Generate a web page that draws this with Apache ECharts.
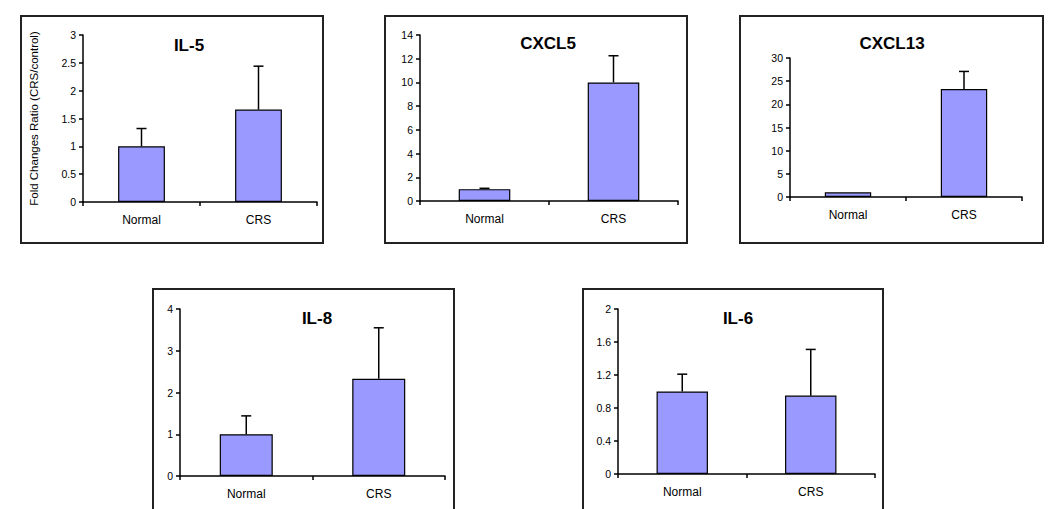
<!DOCTYPE html>
<html>
<head>
<meta charset="utf-8">
<script src="https://cdn.jsdelivr.net/npm/echarts@6/dist/echarts.min.js"></script>
<style>
  html, body { margin:0; padding:0; width:1050px; height:509px; overflow:hidden; background:#fff; }
  .box { position:absolute; border:2px solid #222; box-sizing:border-box; }
  #chart { position:absolute; left:0; top:0; width:1050px; height:509px; }
</style>
</head>
<body>
<div class="box" style="left:20px;top:15px;width:304px;height:229px;"></div>
<div class="box" style="left:384px;top:15px;width:304px;height:229px;"></div>
<div class="box" style="left:739px;top:15px;width:305px;height:229px;"></div>
<div class="box" style="left:152px;top:288px;width:303px;height:240px;"></div>
<div class="box" style="left:582px;top:288px;width:302px;height:240px;"></div>
<div id="chart"></div>
<script>
// ---- data ----
const categories = ['Normal', 'CRS'];
const panelTitles = ['IL-5', 'CXCL5', 'CXCL13', 'IL-8', 'IL-6'];
const il5Mean = [1.0, 1.66];
const il5Upper = [1.32, 2.44];
const cxcl5Mean = [1.0, 10.0];
const cxcl5Upper = [1.07, 12.25];
const cxcl13Mean = [1.0, 23.3];
const cxcl13Upper = [null, 27.1];
const il8Mean = [1.0, 2.33];
const il8Upper = [1.44, 3.55];
const il6Mean = [1.0, 0.95];
const il6Upper = [1.21, 1.51];
const yMax = [3, 14, 30, 4, 2];
const yStep = [0.5, 2, 5, 1, 0.4];
const yAxisTitle = 'Fold Changes Ratio (CRS/control)';

const means = [il5Mean, cxcl5Mean, cxcl13Mean, il8Mean, il6Mean];
const uppers = [il5Upper, cxcl5Upper, cxcl13Upper, il8Upper, il6Upper];

// ---- layout ----
const grids = [
  {left: 83, top: 35, width: 234, height: 167},
  {left: 420, top: 35, width: 258, height: 166},
  {left: 790, top: 58, width: 232, height: 139},
  {left: 180, top: 309, width: 265, height: 167},
  {left: 618, top: 309, width: 257, height: 165}
];
const titlePos = [[189, 45], [548, 43], [892, 43], [317, 318], [738, 318]];

const FONT = 'Liberation Sans, Arial, sans-serif';

function errRender(params, api) {
  const x = api.value(0), base = api.value(1), top = api.value(2);
  if (top == null || isNaN(top) || top <= base) return;
  const p0 = api.coord([x, base]);
  const p1 = api.coord([x, top]);
  return {
    type: 'group',
    children: [
      {type: 'line', shape: {x1: p0[0], y1: p0[1], x2: p1[0], y2: p1[1]}, style: {stroke: '#000', lineWidth: 1.5}},
      {type: 'line', shape: {x1: p1[0] - 5, y1: p1[1], x2: p1[0] + 5, y2: p1[1]}, style: {stroke: '#000', lineWidth: 1.5}}
    ]
  };
}

const option = {
  animation: false,
  backgroundColor: 'transparent',
  grid: grids.map(g => Object.assign({containLabel: false}, g)),
  graphic: panelTitles.map((t, i) => ({
    type: 'text', x: titlePos[i][0], y: titlePos[i][1],
    style: {text: t, font: 'bold 17px ' + FONT, fill: '#000', textAlign: 'center', textVerticalAlign: 'middle'}
  })),
  xAxis: grids.map((g, i) => ({
    type: 'category', gridIndex: i, data: categories,
    axisLine: {lineStyle: {color: '#000', width: 1.5}},
    axisTick: {show: true, length: 4, lineStyle: {color: '#000', width: 1.5}},
    axisLabel: {color: '#000', fontSize: 12, fontFamily: FONT, margin: 12}
  })),
  yAxis: grids.map((g, i) => ({
    type: 'value', gridIndex: i, min: 0, max: yMax[i], interval: yStep[i],
    name: i === 0 ? yAxisTitle : '',
    nameLocation: 'middle', nameGap: 43,
    nameTextStyle: {color: '#000', fontSize: 11.5, fontFamily: FONT},
    splitLine: {show: false},
    axisLine: {show: true, lineStyle: {color: '#000', width: 1.5}},
    axisTick: {show: true, length: 4, lineStyle: {color: '#000', width: 1.5}},
    axisLabel: {color: '#000', fontSize: 10.5, fontFamily: FONT, margin: 7}
  })),
  series: [].concat(
    means.map((m, i) => ({
      type: 'bar', xAxisIndex: i, yAxisIndex: i, data: m, barWidth: '40%',
      itemStyle: {color: '#9999ff', borderColor: '#000', borderWidth: 1.2}
    })),
    means.map((m, i) => ({
      type: 'custom', xAxisIndex: i, yAxisIndex: i,
      data: categories.map((c, j) => [j, m[j], uppers[i][j] == null ? NaN : uppers[i][j]]),
      renderItem: errRender, z: 5
    }))
  )
};

const chart = echarts.init(document.getElementById('chart'), null, {renderer: 'svg'});
chart.setOption(option);
</script>
</body>
</html>
